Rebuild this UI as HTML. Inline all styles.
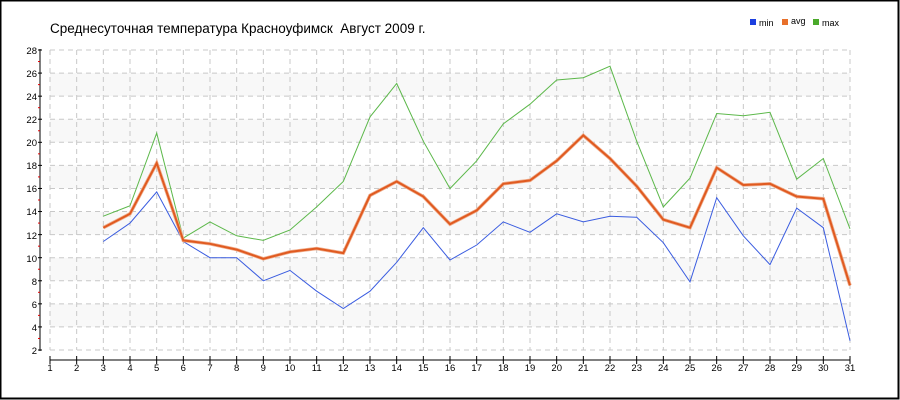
<!DOCTYPE html>
<html><head><meta charset="utf-8"><style>
html,body{margin:0;padding:0;background:#fff}
svg{display:block;font-family:"Liberation Sans",sans-serif}
</style></head><body>
<svg id="s" width="900" height="400" xmlns="http://www.w3.org/2000/svg">
<rect x="0.5" y="0.5" width="898" height="398" fill="#fff" stroke="#000" stroke-width="2"/>
<g id="bands"></g><g id="grid"></g>
<text x="50" y="33" font-size="13.5" fill="#000" style="white-space:pre">Среднесуточная температура Красноуфимск  Август 2009 г.</text>
<rect x="750" y="19" width="6" height="6" fill="#1c3fe0"/><text x="759" y="26" font-size="9">min</text>
<rect x="782" y="19" width="6" height="6" fill="#e8702a"/><text x="791" y="24" font-size="9">avg</text>
<rect x="813" y="19" width="6" height="6" fill="#4aaa2a"/><text x="822" y="26" font-size="9">max</text>
<g font-size="9.5" text-anchor="end" fill="#000">
<text x="37" y="54">28</text><text x="37" y="77">26</text><text x="37" y="100">24</text><text x="37" y="123">22</text><text x="37" y="146">20</text><text x="37" y="169">18</text><text x="37" y="192">16</text><text x="37" y="215">14</text><text x="37" y="239">12</text><text x="37" y="262">10</text><text x="37" y="285">8</text><text x="37" y="308">6</text><text x="37" y="331">4</text><text x="37" y="354">2</text>
</g>
<g font-size="9.5" text-anchor="middle" fill="#000">
<text x="50" y="371">1</text><text x="76.7" y="371">2</text><text x="103.3" y="371">3</text><text x="130" y="371">4</text><text x="156.7" y="371">5</text><text x="183.3" y="371">6</text><text x="210" y="371">7</text><text x="236.7" y="371">8</text><text x="263.3" y="371">9</text><text x="290" y="371">10</text><text x="316.7" y="371">11</text><text x="343.3" y="371">12</text><text x="370" y="371">13</text><text x="396.7" y="371">14</text><text x="423.3" y="371">15</text><text x="450" y="371">16</text><text x="476.7" y="371">17</text><text x="503.3" y="371">18</text><text x="530" y="371">19</text><text x="556.7" y="371">20</text><text x="583.3" y="371">21</text><text x="610" y="371">22</text><text x="636.7" y="371">23</text><text x="663.3" y="371">24</text><text x="690" y="371">25</text><text x="716.7" y="371">26</text><text x="743.3" y="371">27</text><text x="770" y="371">28</text><text x="796.7" y="371">29</text><text x="823.3" y="371">30</text><text x="850" y="371">31</text>
</g>
<g id="axes"></g><g id="lines"></g>
</svg>
<script>
var NS="http://www.w3.org/2000/svg";
function el(p,t,a){var e=document.createElementNS(NS,t);for(var k in a)e.setAttribute(k,a[k]);document.getElementById(p).appendChild(e);}
function X(d){return 50+(d-1)*800/30}
function Y(v){return 50+(28-v)*300/26}
for(var v=4;v<=24;v+=4){el("bands","rect",{x:50,y:Y(v+2),width:800,height:Y(v)-Y(v+2),fill:"#f8f8f8"});}
for(var v=2;v<=28;v+=2){el("grid","line",{x1:50,x2:850,y1:Y(v),y2:Y(v),stroke:"#c8c8c8","stroke-dasharray":"5,4"});}
for(var d=1;d<=31;d++){el("grid","line",{x1:X(d),x2:X(d),y1:50,y2:350,stroke:"#c8c8c8","stroke-dasharray":"5,4"});
 el("axes","line",{x1:X(d),x2:X(d),y1:356,y2:364,stroke:"#000"});}
el("axes","line",{x1:40,x2:40,y1:49,y2:351,stroke:"#000"});
el("axes","line",{x1:50,x2:850,y1:360,y2:360,stroke:"#000"});
for(var v=2;v<=28;v+=2){el("axes","line",{x1:38,x2:42,y1:Y(v),y2:Y(v),stroke:"#000"});}
for(var v=3;v<=27;v+=2){el("axes","line",{x1:38,x2:40,y1:Y(v),y2:Y(v),stroke:"#e00000"});}
var mx=[13.6,14.5,20.8,11.7,13.1,11.9,11.5,12.4,14.4,16.6,22.2,25.1,20.1,16.0,18.4,21.6,23.3,25.4,25.6,26.6,20.1,14.4,16.9,22.5,22.3,22.6,16.8,18.6,12.5];
var av=[12.6,13.8,18.2,11.5,11.2,10.7,9.9,10.5,10.8,10.4,15.4,16.6,15.3,12.9,14.1,16.4,16.7,18.4,20.6,18.6,16.2,13.3,12.6,17.8,16.3,16.4,15.3,15.1,7.6];
var mn=[11.4,13.0,15.7,11.4,10.0,10.0,8.0,8.9,7.1,5.6,7.1,9.6,12.6,9.8,11.1,13.1,12.2,13.8,13.1,13.6,13.5,11.3,7.9,15.2,11.9,9.4,14.3,12.6,2.8];
function pts(a){return a.map(function(v,i){return X(i+3).toFixed(1)+","+Y(v).toFixed(1)}).join(" ")}
el("lines","polyline",{points:pts(mx),fill:"none",stroke:"#5cb84a","stroke-width":1});
el("lines","polyline",{points:pts(mn),fill:"none",stroke:"#3a5ce0","stroke-width":1});
el("lines","polyline",{points:pts(av),fill:"none",stroke:"#f0b090","stroke-width":3.5});
el("lines","polyline",{points:pts(av),fill:"none",stroke:"#e05a20","stroke-width":2});
</script>
</body></html>
